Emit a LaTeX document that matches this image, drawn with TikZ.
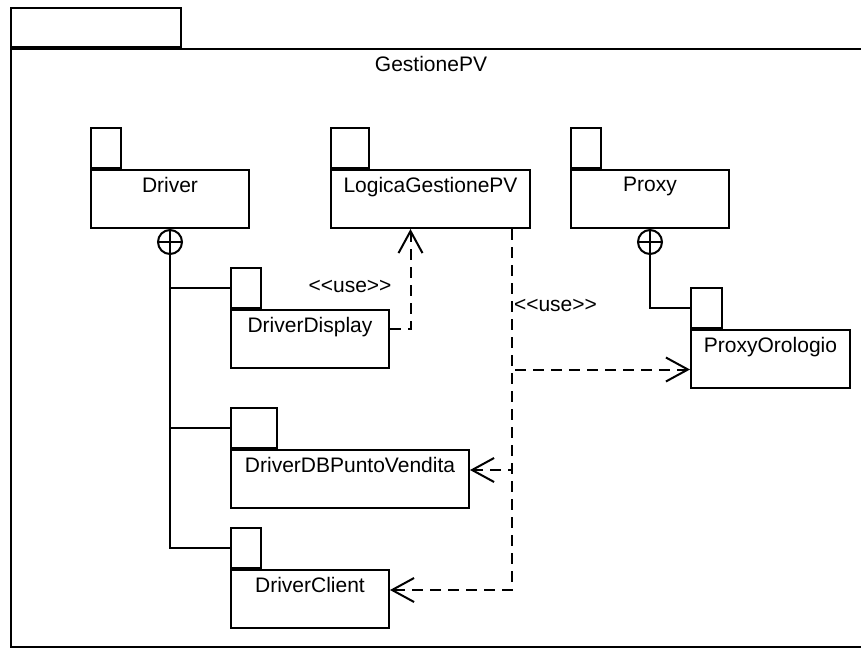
\documentclass[tikz,border=0pt]{standalone}
\usepackage{fontspec}
\newfontfamily\umlfont{Liberation Sans}
\usepackage{tikz}
\usetikzlibrary{arrows.meta, positioning}

\begin{document}
\begin{tikzpicture}[x=1pt, y=-1pt, line width=2pt,
  pkgbody/.style={draw, anchor=north west, minimum height=58pt, inner sep=0pt},
  pkgtab/.style={draw, anchor=south west, minimum height=40pt, inner sep=0pt},
  pkgname/.style={anchor=north, inner sep=7pt, font=\umlfont\fontsize{21pt}{25pt}\selectfont},
  nest/.style={draw, circle, minimum size=24pt, inner sep=0pt, anchor=north},
  dep/.style={dash pattern=on 11pt off 7pt, -{Straight Barb[length=22pt, width=24pt]}},
  stereo/.style={inner sep=0pt, font=\umlfont\fontsize{21pt}{25pt}\selectfont}]
  \useasboundingbox (0,0) rectangle (861,648);

  % Outer package
  \node[pkgbody, minimum width=870pt, minimum height=598pt] (gestionepv) at (10,48) {};
  \node[pkgtab, minimum width=170pt, minimum height=39pt] (gestionepvtab) at (gestionepv.north west) {};
  \node[pkgname] (gestionepvname) at (431,48) {GestionePV};

  % Top row
  \node[pkgbody, minimum width=158pt] (driver) at (90,169) {};
  \node[pkgtab, minimum width=30pt] (drivertab) at (driver.north west) {};
  \node[pkgname] (drivername) at (driver.north) {Driver};

  \node[pkgbody, minimum width=199pt] (logica) at (330,169) {};
  \node[pkgtab, minimum width=38pt] (logicatab) at (logica.north west) {};
  \node[pkgname] (logicaname) at (logica.north) {LogicaGestionePV};

  \node[pkgbody, minimum width=158pt] (proxy) at (570,169) {};
  \node[pkgtab, minimum width=30pt] (proxytab) at (proxy.north west) {};
  \node[pkgname] (proxyname) at (proxy.north) {Proxy};

  % Nested packages
  \node[pkgbody, minimum width=158pt] (ddisplay) at (230,309) {};
  \node[pkgtab, minimum width=30pt] (ddisplaytab) at (ddisplay.north west) {};
  \node[pkgname] (ddisplayname) at (ddisplay.north) {DriverDisplay};

  \node[pkgbody, minimum width=238pt] (ddbpv) at (230,449) {};
  \node[pkgtab, minimum width=46pt] (ddbpvtab) at (ddbpv.north west) {};
  \node[pkgname] (ddbpvname) at (ddbpv.north) {DriverDBPuntoVendita};

  \node[pkgbody, minimum width=158pt] (dclient) at (230,569) {};
  \node[pkgtab, minimum width=30pt] (dclienttab) at (dclient.north west) {};
  \node[pkgname] (dclientname) at (dclient.north) {DriverClient};

  \node[pkgbody, minimum width=159pt] (porologio) at (690,329) {};
  \node[pkgtab, minimum width=31pt] (porologiotab) at (porologio.north west) {};
  \node[pkgname] (porologioname) at (porologio.north) {ProxyOrologio};

  % Containment
  \node[nest] (driverplus) at (driver.south) {};
  \draw (driverplus.north) -- (driverplus.south) (driverplus.west) -- (driverplus.east);
  \draw (driverplus.south) |- (dclienttab.west);
  \draw (driverplus.south |- ddisplaytab.west) -- (ddisplaytab.west);
  \draw (driverplus.south |- ddbpvtab.west) -- (ddbpvtab.west);

  \node[nest] (proxyplus) at (proxy.south) {};
  \draw (proxyplus.north) -- (proxyplus.south) (proxyplus.west) -- (proxyplus.east);
  \draw (proxyplus.south) |- (porologiotab.west);

  % Dependencies
  \draw[dep] ([yshift=10pt]ddisplay.east) -| ([xshift=-20pt]logica.south);
  \node[stereo] (use1) at (350,286) {<<use>>};

  \coordinate (logicafork) at ([xshift=81pt]logica.south);
  \draw[dep] (logicafork) |- ([yshift=-10.5pt]porologio.west);
  \draw[dep] (logicafork) |- ([yshift=9pt]ddbpv.east);
  \draw[dep] (logicafork) |- ([yshift=9pt]dclient.east);
  \node[stereo, anchor=west] (use2) at (513,305) {<<use>>};
\end{tikzpicture}
\end{document}
